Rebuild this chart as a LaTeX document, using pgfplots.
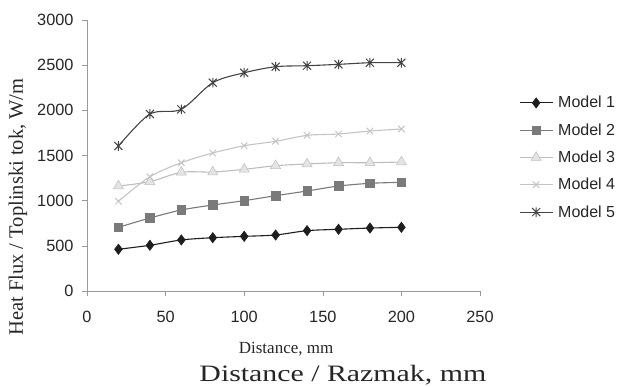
\documentclass[border=0pt]{standalone}
\usepackage{pgfplots}
\pgfplotsset{compat=1.18}
\usepackage{fontspec}
\setmainfont{Liberation Serif}
\newfontfamily\ticksf{Liberation Sans}
\newfontfamily\bigserif[FakeStretch=1.27]{Liberation Serif}
\definecolor{cA}{HTML}{1E1E1E}
\definecolor{cB}{HTML}{7A7A7A}
\definecolor{cC}{HTML}{BDBDBD}
\definecolor{cCf}{HTML}{E4E4E4}
\definecolor{cD}{HTML}{C4C4C4}
\definecolor{cE}{HTML}{444444}
\pgfdeclareplotmark{xstar}{%
  \pgfpathmoveto{\pgfqpoint{-\pgfplotmarksize}{-\pgfplotmarksize}}%
  \pgfpathlineto{\pgfqpoint{\pgfplotmarksize}{\pgfplotmarksize}}%
  \pgfpathmoveto{\pgfqpoint{-\pgfplotmarksize}{\pgfplotmarksize}}%
  \pgfpathlineto{\pgfqpoint{\pgfplotmarksize}{-\pgfplotmarksize}}%
  \pgfpathmoveto{\pgfqpoint{0pt}{-1.2\pgfplotmarksize}}%
  \pgfpathlineto{\pgfqpoint{0pt}{1.2\pgfplotmarksize}}%
  \pgfusepathqstroke}
\begin{document}
\begin{tikzpicture}
\useasboundingbox (-87pt,-96pt) rectangle (534pt,291pt);
\begin{axis}[
  at={(0,0)}, anchor=south west,
  scale only axis, width=393pt, height=271pt,
  xmin=0, xmax=250, ymin=0, ymax=3000,
  xtick={0,50,...,250}, ytick={0,500,...,3000},
  axis lines=left,
  axis line style={-, color=gray!80},
  tick align=outside,
  major tick length=5pt,
  tick style={color=gray!80, line width=0.6pt},
  every axis plot/.append style={line width=1.1pt},
  ticklabel style={font=\ticksf\fontsize{16.3}{19}\selectfont, text=black!85},
  /pgf/number format/assume math mode=true,
  /pgf/number format/1000 sep={},
  xticklabel style={yshift=-12pt},
  yticklabel style={xshift=-5pt},
  clip=false,
  legend style={draw=none, fill=none, at={(1.099,0.4926)}, anchor=west,
    font=\ticksf\fontsize{16}{19}\selectfont, text=black!85,
    row sep=10.2pt, inner sep=0pt, cells={anchor=west},
    nodes={inner xsep=5pt}},
  legend image code/.code={\draw[mark repeat=2,mark phase=2,#1] plot coordinates {(0pt,0pt) (16.5pt,0pt) (33pt,0pt)};},
]
\addplot[cA, smooth, tension=0.5, mark=diamond*, mark size=5.2pt, mark options={fill=cA, draw=cA, line width=0.5pt}] coordinates {
 (20,462) (40,506) (60,565) (80,590) (100,605) (120,620) (140,668) (160,683) (180,697) (200,705)};
\addlegendentry{Model 1}
\addplot[cB, smooth, tension=0.5, mark=square*, mark size=4.3pt, mark options={fill=cB, draw=cB, line width=0.5pt}] coordinates {
 (20,705) (40,808) (60,897) (80,952) (100,1000) (120,1055) (140,1107) (160,1162) (180,1192) (200,1203)};
\addlegendentry{Model 2}
\addplot[cC, smooth, tension=0.5, mark=triangle*, mark size=5.8pt, mark options={fill=cCf, draw=cC, line width=0.5pt}] coordinates {
 (20,1162) (40,1210) (60,1314) (80,1317) (100,1347) (120,1387) (140,1406) (160,1420) (180,1420) (200,1428)};
\addlegendentry{Model 3}
\addplot[cD, smooth, tension=0.5, mark=x, mark size=4.5pt, mark options={draw=cD, line width=1pt}] coordinates {
 (20,993) (40,1265) (60,1420) (80,1528) (100,1608) (120,1657) (140,1723) (160,1738) (180,1771) (200,1793)};
\addlegendentry{Model 4}
\addplot[cE, smooth, tension=0.5, mark=xstar, mark size=4pt, mark options={draw=cE, line width=1pt}] coordinates {
 (20,1605) (40,1959) (60,2011) (80,2306) (100,2416) (120,2483) (140,2494) (160,2509) (180,2527) (200,2527)};
\addlegendentry{Model 5}
\node[font=\fontsize{17}{20}\selectfont, text=black!85] at (rel axis cs:0.5066,-0.2140) {Distance, mm};
\node[font=\bigserif\fontsize{23.5}{28}\selectfont, text=black!85] at (rel axis cs:0.651,-0.3100) {Distance / Razmak, mm};
\node[font=\fontsize{20.5}{24}\selectfont, text=black!85, rotate=90] at (rel axis cs:-0.176,0.31) {Heat Flux / Toplinski tok, W/m};
\end{axis}
\end{tikzpicture}
\end{document}
